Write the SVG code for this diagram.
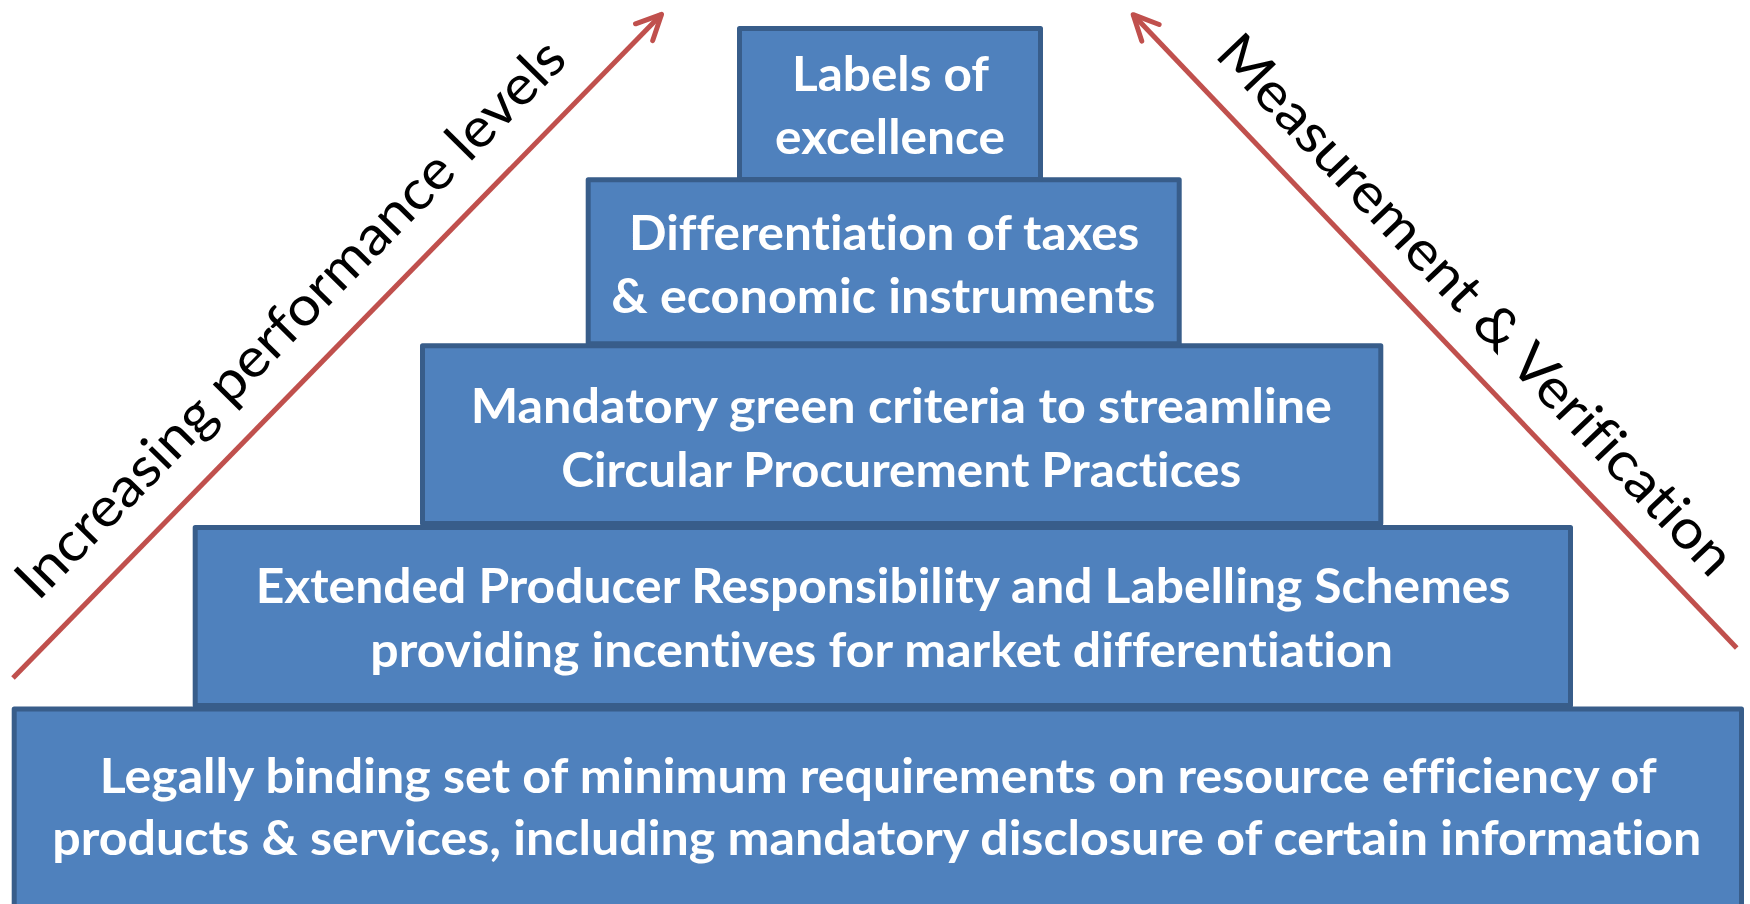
<svg xmlns="http://www.w3.org/2000/svg" width="1750" height="904" viewBox="0 0 1750 904">
  <style>
    .box { fill: #4F81BD; stroke: #385D8A; stroke-width: 5; stroke-linejoin: round; }
    .bt { font-family: Lato, "Open Sans", "Liberation Sans", sans-serif; font-weight: 700; font-size: 48px; fill: #FFFFFF; font-variant-ligatures: none; }
    .side { font-family: Lato, "Open Sans", "Liberation Sans", sans-serif; font-weight: 400; font-size: 55px; fill: #000000; font-variant-ligatures: none; }
    .arrow { stroke: #C0504D; stroke-width: 5; fill: none; stroke-linecap: butt; }
  </style>
  <defs>
    <marker id="openArrow" markerUnits="userSpaceOnUse" orient="auto" refX="0" refY="0" markerWidth="60" markerHeight="60" overflow="visible">
      <path d="M -25 -12 L 0 0 L -25 12" fill="none" stroke="#C0504D" stroke-width="5" stroke-linecap="round" stroke-linejoin="round"/>
    </marker>
  </defs>
  <rect width="1750" height="904" fill="#FFFFFF"/>

  <g id="node-level5">
    <rect class="box" x="14.2" y="709" width="1727.3" height="230"/>
    <text class="bt" x="99.7" y="793" textLength="1557" lengthAdjust="spacingAndGlyphs">Legally binding set of minimum requirements on resource efficiency of</text>
    <text class="bt" x="52.3" y="855" textLength="1649" lengthAdjust="spacingAndGlyphs">products &amp; services, including mandatory disclosure of certain information</text>
  </g>
  <g id="node-level4">
    <rect class="box" x="195.2" y="527.5" width="1375.3" height="178"/>
    <text class="bt" x="255.7" y="603.3" textLength="1254.6" lengthAdjust="spacingAndGlyphs">Extended Producer Responsibility and Labelling Schemes</text>
    <text class="bt" x="370.3" y="666.7" textLength="1022.7" lengthAdjust="spacingAndGlyphs">providing incentives for market differentiation</text>
  </g>
  <g id="node-level3">
    <rect class="box" x="422.5" y="345.8" width="958.3" height="177.7"/>
    <text class="bt" x="470.7" y="423.3" textLength="861.3" lengthAdjust="spacingAndGlyphs">Mandatory green criteria to streamline</text>
    <text class="bt" x="561.3" y="486.7" textLength="680" lengthAdjust="spacingAndGlyphs">Circular Procurement Practices</text>
  </g>
  <g id="node-level2">
    <rect class="box" x="588.2" y="179.8" width="591" height="164"/>
    <text class="bt" x="629" y="250" textLength="510.3" lengthAdjust="spacingAndGlyphs">Differentiation of taxes</text>
    <text class="bt" x="611.3" y="313.3" textLength="544" lengthAdjust="spacingAndGlyphs">&amp; economic instruments</text>
  </g>
  <g id="node-level1">
    <rect class="box" x="739.5" y="28.5" width="301" height="151"/>
    <text class="bt" x="792" y="90.7" textLength="197" lengthAdjust="spacingAndGlyphs">Labels of</text>
    <text class="bt" x="775" y="154" textLength="230" lengthAdjust="spacingAndGlyphs">excellence</text>
  </g>

  <g id="connectors">
    <line id="arrow-performance" class="arrow" x1="13" y1="678" x2="661.6" y2="14.3" marker-end="url(#openArrow)"/>
    <line id="arrow-verification" class="arrow" x1="1736.7" y1="648" x2="1133.2" y2="14.7" marker-end="url(#openArrow)"/>
  </g>

  <g id="arrow-labels">
    <text class="side" transform="translate(38,602) rotate(-45.5)" x="0" y="0" textLength="758" lengthAdjust="spacingAndGlyphs">Increasing performance levels</text>
    <text class="side" transform="translate(1213.6,55.8) rotate(46.5)" x="0" y="0" textLength="722" lengthAdjust="spacingAndGlyphs">Measurement &amp; Verification</text>
  </g>
</svg>
